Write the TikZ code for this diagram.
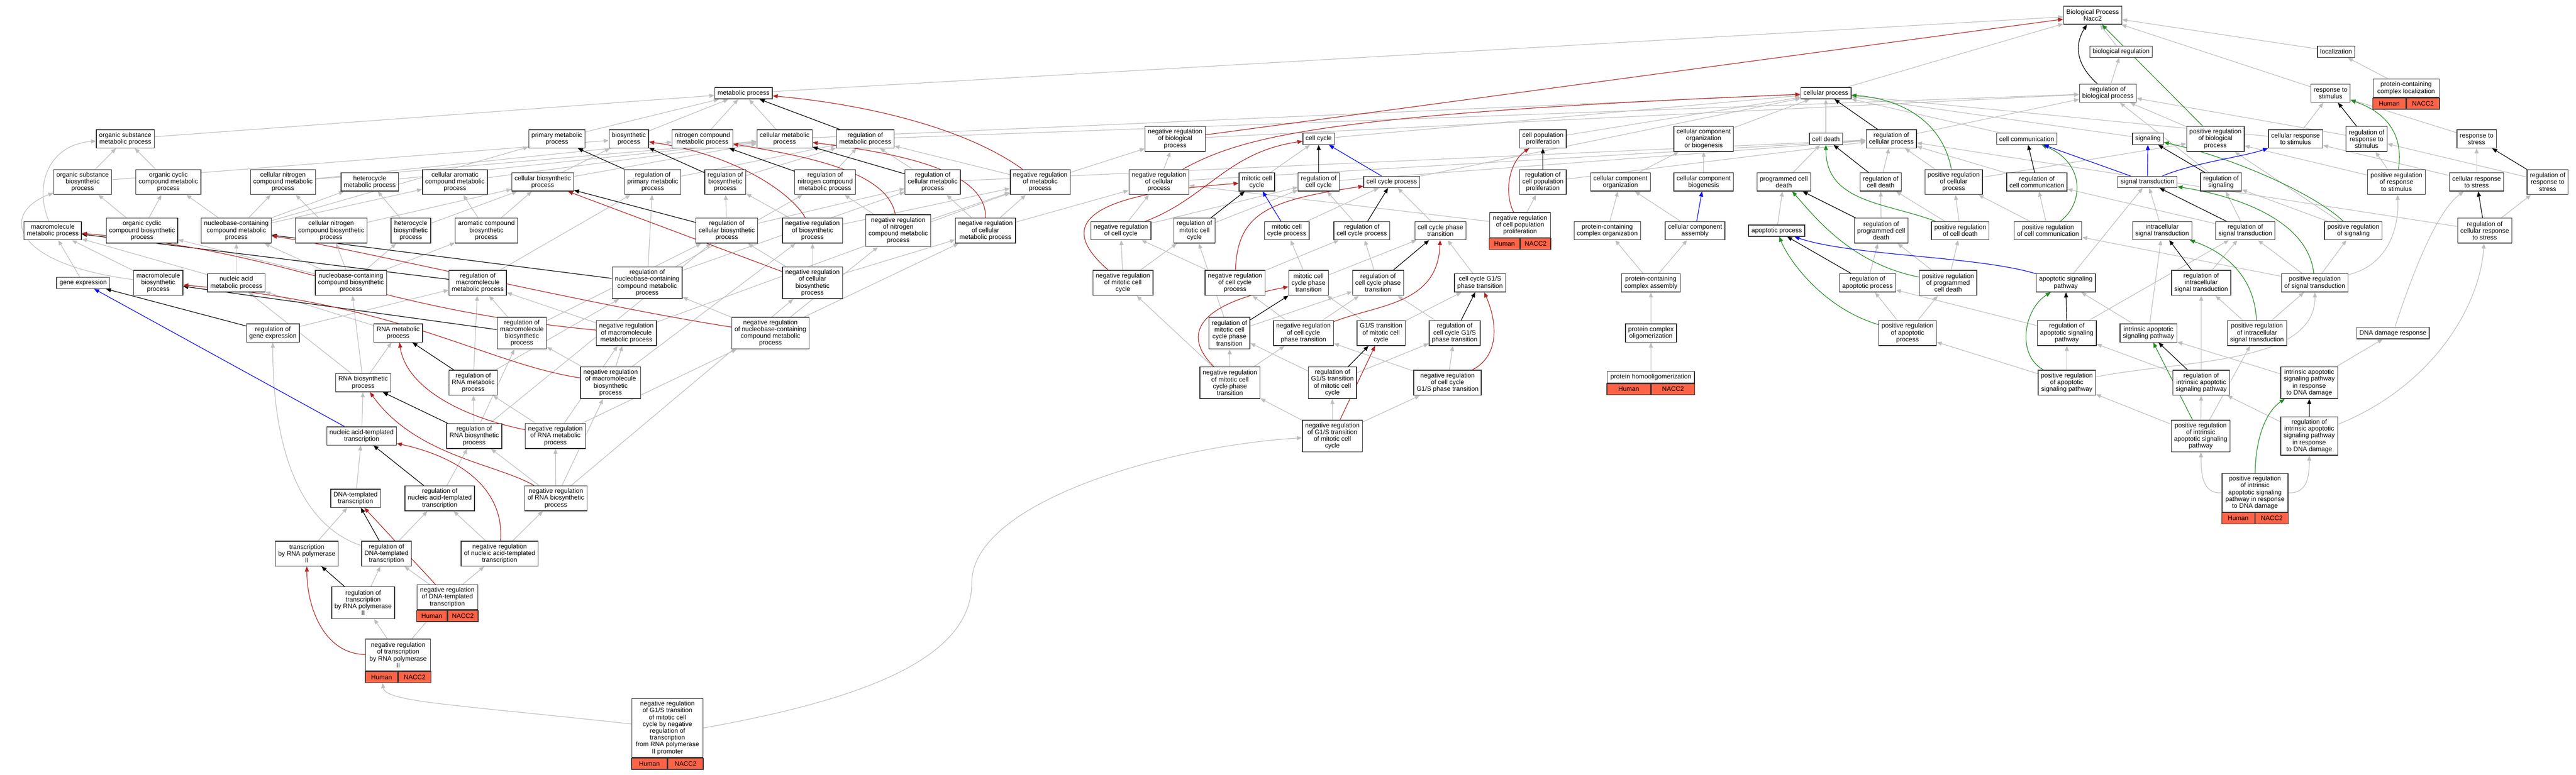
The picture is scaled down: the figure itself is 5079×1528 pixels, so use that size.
\documentclass[tikz,border=0pt]{standalone}
\usepackage{fontspec}
\setmainfont{Liberation Sans}
\usetikzlibrary{arrows.meta,backgrounds}

\definecolor{isagray}{RGB}{190,190,190}
\definecolor{firebrick}{RGB}{178,34,34}
\definecolor{forestgreen}{RGB}{34,139,34}
\definecolor{tomato}{RGB}{255,99,71}

\tikzset{
  term/.style={draw=black!80, line width=1.4pt, fill=white, align=center,
    inner xsep=5.5pt, inner ysep=2pt, font=\fontsize{12.7}{13.4}\selectfont},
  nl/.style={minimum height={13.4pt*#1+9pt}},
  gene/.style={draw=black!80, line width=1.4pt, fill=tomato, minimum height=22pt,
    inner sep=0pt, font=\fontsize{12.7}{13.4}\selectfont},
  golink/.style={line width=1.2pt, -{Triangle[length=10pt,width=8pt]}},
  isa/.style={golink, isagray},
  reg/.style={golink, black},
  nreg/.style={golink, firebrick},
  preg/.style={golink, forestgreen},
  partof/.style={golink, blue}
}

\newcommand{\generow}[2]{%
  \node[gene, minimum width=#2, anchor=north east] (#1H) at (#1.south) {Human};
  \node[gene, minimum width=#2, anchor=north west] (#1N) at (#1.south) {NACC2};}

\begin{document}
\begin{tikzpicture}[x=1pt,y=-1pt]
  \useasboundingbox (0,0) rectangle (5079,1528);

  \node[term,nl=2] (bp) at (4126,30) {Biological Process\\Nacc2};
  \node[term,nl=1] (bioreg) at (4182,102) {biological regulation};
  \node[term,nl=1] (loc) at (4606,102) {localization};

  \node[term,nl=1] (mp) at (1466,184) {metabolic process};
  \node[term,nl=1] (cp) at (3600,184) {cellular process};
  \node[term,nl=2] (regbp) at (4156,184) {regulation of\\biological process};
  \node[term,nl=2] (rstim) at (4595,184) {response to\\stimulus};
  \node[term,nl=2,minimum width=130pt] (pcloc) at (4744,174) {protein-containing\\complex localization};
  \generow{pcloc}{65pt}

  \node[term,nl=2] (osmp) at (247,274) {organic substance\\metabolic process};
  \node[term,nl=2] (pmp) at (1098,274) {primary metabolic\\process};
  \node[term,nl=2] (bsp) at (1240,274) {biosynthetic\\process};
  \node[term,nl=2] (ncmp) at (1385,274) {nitrogen compound\\metabolic process};
  \node[term,nl=2] (cmp) at (1547,274) {cellular metabolic\\process};
  \node[term,nl=2] (regmp) at (1706,274) {regulation of\\metabolic process};
  \node[term,nl=3] (nregbp) at (2317,274) {negative regulation\\of biological\\process};
  \node[term,nl=1] (cc) at (2600,274) {cell cycle};
  \node[term,nl=2] (cpp) at (3042,274) {cell population\\proliferation};
  \node[term,nl=3] (ccob) at (3359,274) {cellular component\\organization\\or biogenesis};
  \node[term,nl=1] (cd) at (3600,274) {cell death};
  \node[term,nl=2] (regcp) at (3729,274) {regulation of\\cellular process};
  \node[term,nl=1] (ccom) at (3996,274) {cell communication};
  \node[term,nl=1] (sig) at (4235,274) {signaling};
  \node[term,nl=3] (pregbp) at (4368,274) {positive regulation\\of biological\\process};
  \node[term,nl=2] (crstim) at (4526,274) {cellular response\\to stimulus};
  \node[term,nl=3] (regrstim) at (4666,274) {regulation of\\response to\\stimulus};
  \node[term,nl=2] (rstress) at (4883,274) {response to\\stress};

  \node[term,nl=3] (osbp) at (163,359) {organic substance\\biosynthetic\\process};
  \node[term,nl=3] (occmp) at (332,359) {organic cyclic\\compound metabolic\\process};
  \node[term,nl=3] (cncmp) at (558,359) {cellular nitrogen\\compound metabolic\\process};
  \node[term,nl=2] (hmp) at (729,359) {heterocycle\\metabolic process};
  \node[term,nl=3] (camp) at (897,359) {cellular aromatic\\compound metabolic\\process};
  \node[term,nl=2] (cbp) at (1070,359) {cellular biosynthetic\\process};
  \node[term,nl=3] (regpmp) at (1287,359) {regulation of\\primary metabolic\\process};
  \node[term,nl=3] (regbsp) at (1430,359) {regulation of\\biosynthetic\\process};
  \node[term,nl=3] (regncmp) at (1627,359) {regulation of\\nitrogen compound\\metabolic process};
  \node[term,nl=3] (regcmp) at (1839,359) {regulation of\\cellular metabolic\\process};
  \node[term,nl=3] (nregmp) at (2051,359) {negative regulation\\of metabolic\\process};
  \node[term,nl=3] (nregcp) at (2285,359) {negative regulation\\of cellular\\process};
  \node[term,nl=2] (mcc) at (2478,359) {mitotic cell\\cycle};
  \node[term,nl=2] (regcc) at (2600,359) {regulation of\\cell cycle};
  \node[term,nl=1] (ccp) at (2744,359) {cell cycle process};
  \node[term,nl=3] (regcpp) at (3042,359) {regulation of\\cell population\\proliferation};
  \node[term,nl=2] (cco) at (3195,359) {cellular component\\organization};
  \node[term,nl=2] (ccb) at (3359,359) {cellular component\\biogenesis};
  \node[term,nl=2] (pcd) at (3517,359) {programmed cell\\death};
  \node[term,nl=2] (regcd) at (3708,359) {regulation of\\cell death};
  \node[term,nl=3] (pregcp) at (3852,359) {positive regulation\\of cellular\\process};
  \node[term,nl=2] (regccom) at (4016,359) {regulation of\\cell communication};
  \node[term,nl=1] (st) at (4234,359) {signal transduction};
  \node[term,nl=2] (regsig) at (4379,359) {regulation of\\signaling};
  \node[term,nl=3] (pregrstim) at (4725,359) {positive regulation\\of response\\to stimulus};
  \node[term,nl=2] (crstress) at (4883,359) {cellular response\\to stress};
  \node[term,nl=3] (regrstress) at (5023,359) {regulation of\\response to\\stress};

  \node[term,nl=2] (mmp) at (104,455) {macromolecule\\metabolic process};
  \node[term,nl=3] (occbp) at (280,455) {organic cyclic\\compound biosynthetic\\process};
  \node[term,nl=3] (nccmp) at (466,455) {nucleobase-containing\\compound metabolic\\process};
  \node[term,nl=3] (cncbp) at (653,455) {cellular nitrogen\\compound biosynthetic\\process};
  \node[term,nl=3] (hbp) at (810,455) {heterocycle\\biosynthetic\\process};
  \node[term,nl=3] (acbp) at (959,455) {aromatic compound\\biosynthetic\\process};
  \node[term,nl=3] (regcbp) at (1433,455) {regulation of\\cellular biosynthetic\\process};
  \node[term,nl=3] (nregbsp) at (1602,455) {negative regulation\\of biosynthetic\\process};
  \node[term,nl=4] (nregncmp) at (1771,455) {negative regulation\\of nitrogen\\compound metabolic\\process};
  \node[term,nl=3] (nregcmp) at (1943,455) {negative regulation\\of cellular\\metabolic process};
  \node[term,nl=2] (nregcc) at (2210,455) {negative regulation\\of cell cycle};
  \node[term,nl=3] (regmcc) at (2355,455) {regulation of\\mitotic cell\\cycle};
  \node[term,nl=2] (mccp) at (2537,455) {mitotic cell\\cycle process};
  \node[term,nl=2] (regccp) at (2685,455) {regulation of\\cell cycle process};
  \node[term,nl=2] (ccpt) at (2840,455) {cell cycle phase\\transition};
  \node[term,nl=3,minimum width=120pt] (nregcpp) at (2997,444) {negative regulation\\of cell population\\proliferation};
  \generow{nregcpp}{60pt}
  \node[term,nl=2] (pcco) at (3169,455) {protein-containing\\complex organization};
  \node[term,nl=2] (cca) at (3342,455) {cellular component\\assembly};
  \node[term,nl=1] (ap) at (3503,455) {apoptotic process};
  \node[term,nl=3] (regpcd) at (3709,455) {regulation of\\programmed cell\\death};
  \node[term,nl=2] (pregcd) at (3865,455) {positive regulation\\of cell death};
  \node[term,nl=2] (pregccom) at (4038,455) {positive regulation\\of cell communication};
  \node[term,nl=2] (ist) at (4263,455) {intracellular\\signal transduction};
  \node[term,nl=2] (regst) at (4427,455) {regulation of\\signal transduction};
  \node[term,nl=2] (pregsig) at (4640,455) {positive regulation\\of signaling};
  \node[term,nl=3] (regcrstress) at (4899,455) {regulation of\\cellular response\\to stress};

  \node[term,nl=1] (ge) at (164,558) {gene expression};
  \node[term,nl=3] (mbp) at (312,558) {macromolecule\\biosynthetic\\process};
  \node[term,nl=2] (namp) at (466,558) {nucleic acid\\metabolic process};
  \node[term,nl=3] (nccbp) at (692,558) {nucleobase-containing\\compound biosynthetic\\process};
  \node[term,nl=3] (regmmp) at (942,558) {regulation of\\macromolecule\\metabolic process};
  \node[term,nl=4] (regnccmp) at (1276,558) {regulation of\\nucleobase-containing\\compound metabolic\\process};
  \node[term,nl=4] (nregcbp) at (1602,558) {negative regulation\\of cellular\\biosynthetic\\process};
  \node[term,nl=3] (nregmcc) at (2214,558) {negative regulation\\of mitotic cell\\cycle};
  \node[term,nl=3] (nregccp) at (2435,558) {negative regulation\\of cell cycle\\process};
  \node[term,nl=3] (mccpt) at (2580,558) {mitotic cell\\cycle phase\\transition};
  \node[term,nl=3] (regccpt) at (2717,558) {regulation of\\cell cycle phase\\transition};
  \node[term,nl=2] (g1s) at (2918,558) {cell cycle G1/S\\phase transition};
  \node[term,nl=2] (pcca) at (3255,558) {protein-containing\\complex assembly};
  \node[term,nl=2] (regap) at (3682,558) {regulation of\\apoptotic process};
  \node[term,nl=3] (pregpcd) at (3841,558) {positive regulation\\of programmed\\cell death};
  \node[term,nl=2] (asp) at (4073,558) {apoptotic signaling\\pathway};
  \node[term,nl=3] (regist) at (4340,558) {regulation of\\intracellular\\signal transduction};
  \node[term,nl=2] (pregst) at (4564,558) {positive regulation\\of signal transduction};

  \node[term,nl=2] (reggexp) at (538,657) {regulation of\\gene expression};
  \node[term,nl=2] (rnamp) at (785,657) {RNA metabolic\\process};
  \node[term,nl=4] (regmbp) at (1029,657) {regulation of\\macromolecule\\biosynthetic\\process};
  \node[term,nl=3] (nregmmp) at (1235,657) {negative regulation\\of macromolecule\\metabolic process};
  \node[term,nl=4] (nregnccmp) at (1519,657) {negative regulation\\of nucleobase-containing\\compound metabolic\\process};
  \node[term,nl=4] (regmccpt) at (2424,657) {regulation of\\mitotic cell\\cycle phase\\transition};
  \node[term,nl=3] (nregccpt) at (2570,657) {negative regulation\\of cell cycle\\phase transition};
  \node[term,nl=3] (g1smcc) at (2723,657) {G1/S transition\\of mitotic cell\\cycle};
  \node[term,nl=3] (regg1s) at (2868,657) {regulation of\\cell cycle G1/S\\phase transition};
  \node[term,nl=2] (pco) at (3255,657) {protein complex\\oligomerization};
  \node[term,nl=3] (pregap) at (3761,657) {positive regulation\\of apoptotic\\process};
  \node[term,nl=3] (regasp) at (4075,657) {regulation of\\apoptotic signaling\\pathway};
  \node[term,nl=2] (iasp) at (4236,657) {intrinsic apoptotic\\signaling pathway};
  \node[term,nl=3] (pregist) at (4450,657) {positive regulation\\of intracellular\\signal transduction};
  \node[term,nl=1] (dnadr) at (4718,657) {DNA damage response};

  \node[term,nl=2] (rnabp) at (716,755) {RNA biosynthetic\\process};
  \node[term,nl=3] (regrnamp) at (933,755) {regulation of\\RNA metabolic\\process};
  \node[term,nl=4] (nregmbp) at (1204,755) {negative regulation\\of macromolecule\\biosynthetic\\process};
  \node[term,nl=4] (nregmccpt) at (2425,755) {negative regulation\\of mitotic cell\\cycle phase\\transition};
  \node[term,nl=4] (regg1smcc) at (2627,755) {regulation of\\G1/S transition\\of mitotic cell\\cycle};
  \node[term,nl=3] (nregg1s) at (2854,755) {negative regulation\\of cell cycle\\G1/S phase transition};
  \node[term,nl=1,minimum width=172pt] (pho) at (3255,744) {protein homooligomerization};
  \generow{pho}{86pt}
  \node[term,nl=3] (pregasp) at (4075,755) {positive regulation\\of apoptotic\\signaling pathway};
  \node[term,nl=3] (regiasp) at (4340,755) {regulation of\\intrinsic apoptotic\\signaling pathway};
  \node[term,nl=4] (iaspdna) at (4553,755) {intrinsic apoptotic\\signaling pathway\\in response\\to DNA damage};

  \node[term,nl=2] (natt) at (713,860) {nucleic acid-templated\\transcription};
  \node[term,nl=3] (regrnabp) at (935,860) {regulation of\\RNA biosynthetic\\process};
  \node[term,nl=3] (nregrnamp) at (1095,860) {negative regulation\\of RNA metabolic\\process};
  \node[term,nl=4] (nregg1smcc) at (2627,860) {negative regulation\\of G1/S transition\\of mitotic cell\\cycle};
  \node[term,nl=4] (pregiasp) at (4339,860) {positive regulation\\of intrinsic\\apoptotic signaling\\pathway};
  \node[term,nl=5] (regiaspdna) at (4553,860) {regulation of\\intrinsic apoptotic\\signaling pathway\\in response\\to DNA damage};

  \node[term,nl=2] (dtt) at (701,983) {DNA-templated\\transcription};
  \node[term,nl=3] (regnatt) at (867,983) {regulation of\\nucleic acid-templated\\transcription};
  \node[term,nl=3] (nregrnabp) at (1096,983) {negative regulation\\of RNA biosynthetic\\process};
  \node[term,nl=5,minimum width=130pt] (pregiaspdna) at (4446,972) {positive regulation\\of intrinsic\\apoptotic signaling\\pathway in response\\to DNA damage};
  \generow{pregiaspdna}{65pt}

  \node[term,nl=3] (trpol2) at (605,1092) {transcription\\by RNA polymerase\\II};
  \node[term,nl=3] (regdtt) at (762,1092) {regulation of\\DNA-templated\\transcription};
  \node[term,nl=3] (nregnatt) at (985,1092) {negative regulation\\of nucleic acid-templated\\transcription};

  \node[term,nl=4] (regtrpol2) at (716,1189) {regulation of\\transcription\\by RNA polymerase\\II};
  \node[term,nl=3,minimum width=120pt] (nregdtt) at (882,1178) {negative regulation\\of DNA-templated\\transcription};
  \generow{nregdtt}{60pt}

  \node[term,nl=4,minimum width=128pt] (nregtrpol2) at (785,1292) {negative regulation\\of transcription\\by RNA polymerase\\II};
  \generow{nregtrpol2}{64pt}

  \node[term,nl=8,minimum width=140pt] (nregg1sbot) at (1316,1436) {negative regulation\\of G1/S transition\\of mitotic cell\\cycle by negative\\regulation of\\transcription\\from RNA polymerase\\II promoter};
  \generow{nregg1sbot}{70pt}

  \begin{pgfonlayer}{background}
    \path[isa] (mp) edge (bp);
    \path[isa] (cp) edge (bp);
    \path[isa] (bioreg) edge (bp);
    \path[isa] (rstim) edge (bp);
    \path[isa] (loc) edge (bp);
    \path[isa] (regbp) edge (bioreg);
    \path[isa] (pcloc) edge (loc);
    \path[isa] (osmp) edge (mp);
    \path[isa] (pmp) edge (mp);
    \path[isa] (bsp) edge (mp);
    \path[isa] (ncmp) edge (mp);
    \path[isa] (cmp) edge (mp) edge (cp);
    \path[isa] (regmp) edge (regbp);
    \path[isa] (nregbp) edge (regbp);
    \path[isa] (cc) edge (cp);
    \path[isa] (cpp) edge (cp);
    \path[isa] (ccob) edge (cp);
    \path[isa] (cd) edge (cp);
    \path[isa] (ccom) edge (cp);
    \path[isa] (sig) edge (cp);
    \path[isa] (crstim) edge (cp) edge (rstim);
    \path[isa] (regcp) edge (regbp);
    \path[isa] (pregbp) edge (regbp);
    \path[isa] (regrstim) edge (regbp);
    \path[isa] (regsig) edge (regbp);
    \path[isa] (rstress) edge (rstim);
    \path[isa] (osbp) edge (osmp) edge (bsp);
    \path[isa] (occmp) edge (osmp);
    \path[isa] (cncmp) edge (ncmp) edge (cmp);
    \path[isa] (hmp) edge (cmp);
    \path[isa] (camp) edge (cmp);
    \path[isa] (cbp) edge (bsp) edge (cmp);
    \path[isa] (regpmp) edge (regmp);
    \path[isa] (regbsp) edge (regmp);
    \path[isa] (regncmp) edge (regmp);
    \path[isa] (regcmp) edge (regmp) edge (regcp);
    \path[isa] (nregmp) edge (regmp) edge (nregbp);
    \path[isa] (nregcp) edge (nregbp) edge (regcp);
    \path[isa] (mcc) edge (cc);
    \path[isa] (regcc) edge (regcp);
    \path[isa] (ccp) edge (cp);
    \path[isa] (regcpp) edge (regcp);
    \path[isa] (cco) edge (ccob);
    \path[isa] (ccb) edge (ccob);
    \path[isa] (pcd) edge (cd);
    \path[isa] (regcd) edge (regcp);
    \path[isa] (pregcp) edge (regcp) edge (pregbp);
    \path[isa] (regccom) edge (regcp);
    \path[isa] (pregrstim) edge (regrstim) edge (pregbp);
    \path[isa] (crstress) edge (rstress) edge (crstim);
    \path[isa] (regrstress) edge (regrstim);
    \draw[isa] (mmp) .. controls (65,360) and (100,285) .. (osmp);
    \path[isa] (occbp) edge (osbp) edge (occmp);
    \path[isa] (nccmp) edge (pmp) edge (occmp) edge (cncmp) edge (hmp) edge (camp);
    \path[isa] (cncbp) edge (cncmp) edge (cbp);
    \path[isa] (hbp) edge (hmp) edge (cbp);
    \path[isa] (acbp) edge (camp) edge (cbp);
    \path[isa] (regcbp) edge (regbsp) edge (regcmp);
    \path[isa] (nregbsp) edge (regbsp) edge (nregmp);
    \path[isa] (nregncmp) edge (regncmp) edge (nregmp);
    \path[isa] (nregcmp) edge (regcmp) edge (nregmp) edge (nregcp);
    \path[isa] (nregcc) edge (nregcp) edge (regcc);
    \path[isa] (regmcc) edge (regcc);
    \path[isa] (mccp) edge (ccp);
    \path[isa] (regccp) edge (regcc);
    \path[isa] (ccpt) edge (ccp);
    \path[isa] (nregcpp) edge (regcpp) edge (nregcp);
    \path[isa] (pcco) edge (cco);
    \path[isa] (cca) edge (cco);
    \path[isa] (ap) edge (pcd);
    \path[isa] (regpcd) edge (regcd);
    \path[isa] (pregcd) edge (regcd) edge (pregcp);
    \path[isa] (pregccom) edge (regccom) edge (pregcp);
    \path[isa] (ist) edge (st);
    \path[isa] (regst) edge (regsig) edge (regccom);
    \path[isa] (pregsig) edge (regsig) edge (pregbp);
    \path[isa] (regcrstress) edge (regrstress) edge (regcp);
    \path[isa] (ge) edge (mmp);
    \path[isa] (mbp) edge (mmp);
    \draw[isa] (mbp) .. controls (20,520) and (0,420) .. (osbp);
    \path[isa] (namp) edge (nccmp) edge (mmp);
    \path[isa] (nccbp) edge (nccmp) edge (cncbp) edge (hbp) edge (occbp) edge (acbp);
    \path[isa] (regmmp) edge (regpmp);
    \path[isa] (regnccmp) edge (regpmp) edge (regncmp) edge (regcmp);
    \path[isa] (nregcbp) edge (nregbsp) edge (regcbp) edge (nregcmp);
    \path[isa] (nregmcc) edge (nregcc) edge (regmcc);
    \path[isa] (nregccp) edge (nregcc) edge (regccp);
    \path[isa] (mccpt) edge (mccp) edge (ccpt);
    \path[isa] (regccpt) edge (regccp);
    \path[isa] (g1s) edge (ccpt);
    \path[isa] (pcca) edge (pcco) edge (cca);
    \path[isa] (regap) edge (regpcd);
    \path[isa] (pregpcd) edge (pregcd) edge (regpcd);
    \path[isa] (asp) edge (st);
    \path[isa] (regist) edge (regst);
    \path[isa] (pregst) edge (regst) edge (pregsig) edge (pregccom);
    \draw[isa] (pregst) .. controls (4720,520) and (4730,430) .. (pregrstim);
    \path[isa] (reggexp) edge (regmmp);
    \path[isa] (rnamp) edge (namp);
    \path[isa] (regmbp) edge (regmmp) edge (regcbp);
    \path[isa] (nregmmp) edge (regmmp) edge (nregmp);
    \path[isa] (nregnccmp) edge (regnccmp) edge (nregncmp) edge (nregcmp);
    \path[isa] (regmccpt) edge (regmcc) edge (regccpt);
    \path[isa] (nregccpt) edge (nregccp) edge (regccpt);
    \path[isa] (g1smcc) edge (mccpt) edge (g1s);
    \path[isa] (regg1s) edge (regccpt);
    \path[isa] (pco) edge (pcca);
    \path[isa] (pregap) edge (regap) edge (pregpcd);
    \path[isa] (regasp) edge (regap) edge (regst);
    \path[isa] (iasp) edge (asp) edge (ist);
    \path[isa] (pregist) edge (regist) edge (pregst);
    \draw[isa] (dnadr) .. controls (4750,560) and (4800,420) .. (crstress);
    \path[isa] (rnabp) edge (rnamp) edge (nccbp) edge (namp);
    \path[isa] (regrnamp) edge (regnccmp) edge (regmmp);
    \path[isa] (nregmbp) edge (regmbp) edge (nregmmp) edge (nregbsp);
    \path[isa] (nregmccpt) edge (regmccpt) edge (nregmcc) edge (nregccpt);
    \path[isa] (regg1smcc) edge (regmccpt) edge (regg1s);
    \path[isa] (nregg1s) edge (regg1s) edge (nregccpt);
    \path[isa] (pho) edge (pco);
    \path[isa] (pregasp) edge (regasp) edge (pregap);
    \draw[isa] (pregasp) .. controls (4300,710) and (4565,720) .. (pregst);
    \path[isa] (regiasp) edge (regasp) edge (regist);
    \path[isa] (iaspdna) edge (iasp) edge (dnadr);
    \path[isa] (natt) edge (rnabp);
    \path[isa] (regrnabp) edge (regrnamp) edge (regmbp) edge (regcbp);
    \path[isa] (nregrnamp) edge (regrnamp) edge (nregmmp) edge (nregnccmp);
    \path[isa] (nregg1smcc) edge (regg1smcc) edge (nregg1s) edge (nregmccpt);
    \path[isa] (pregiasp) edge (regiasp) edge (pregasp) edge (pregist);
    \path[isa] (regiaspdna) edge (regiasp);
    \draw[isa] (regiaspdna) .. controls (4800,760) and (4890,600) .. (regcrstress);
    \path[isa] (dtt) edge (natt);
    \path[isa] (regnatt) edge (regrnabp);
    \path[isa] (nregrnabp) edge (regrnabp) edge (nregrnamp) edge (nregmbp) edge (nregcbp);
    \draw[isa] (pregiaspdna.west) .. controls (4340,975) and (4340,930) .. (pregiasp);
    \draw[isa] (pregiaspdna.east) .. controls (4553,975) and (4553,930) .. (regiaspdna);
    \path[isa] (trpol2) edge (dtt);
    \path[isa] (regdtt) edge (regnatt);
    \draw[isa] (regdtt) .. controls (600,1040) and (537,900) .. (reggexp);
    \path[isa] (nregnatt) edge (regnatt) edge (nregrnabp);
    \path[isa] (regtrpol2) edge (regdtt);
    \path[isa] (nregdtt) edge (regdtt) edge (nregnatt);
    \path[isa] (nregtrpol2) edge (regtrpol2) edge (nregdtt);
    \draw[isa] (nregg1sbot) .. controls (900,1390) and (760,1385) .. (nregtrpol2H);
    \draw[isa] (nregg1sbot.east) .. controls (1700,1380) and (1916,1300) .. (1916,1150)
      .. controls (1916,990) and (2300,880) .. (nregg1smcc);

    \draw[reg] (regbp) .. controls (4085,120) and (4095,80) .. (bp);
    \path[reg] (regmp) edge (mp);
    \path[reg] (regpmp) edge (pmp);
    \path[reg] (regbsp) edge (bsp);
    \path[reg] (regncmp) edge (ncmp);
    \path[reg] (regcmp) edge (cmp);
    \path[reg] (regcbp) edge (cbp);
    \path[reg] (regmmp) edge (mmp);
    \path[reg] (regnccmp) edge (nccmp);
    \path[reg] (regmbp) edge (mbp);
    \path[reg] (reggexp) edge (ge);
    \path[reg] (regrnamp) edge (rnamp);
    \path[reg] (regrnabp) edge (rnabp);
    \path[reg] (regnatt) edge (natt);
    \path[reg] (regdtt) edge (dtt);
    \path[reg] (regtrpol2) edge (trpol2);
    \path[reg] (regcc) edge (cc);
    \path[reg] (regmcc) edge (mcc);
    \path[reg] (regccp) edge (ccp);
    \path[reg] (regccpt) edge (ccpt);
    \path[reg] (regmccpt) edge (mccpt);
    \path[reg] (regg1smcc) edge (g1smcc);
    \path[reg] (regg1s) edge (g1s);
    \path[reg] (regcpp) edge (cpp);
    \path[reg] (regcp) edge (cp);
    \path[reg] (regcd) edge (cd);
    \path[reg] (regpcd) edge (pcd);
    \path[reg] (regap) edge (ap);
    \path[reg] (regccom) edge (ccom);
    \path[reg] (regsig) edge (sig);
    \path[reg] (regst) edge (st);
    \path[reg] (regist) edge (ist);
    \path[reg] (regasp) edge (asp);
    \path[reg] (regiasp) edge (iasp);
    \path[reg] (regiaspdna) edge (iaspdna);
    \path[reg] (regrstim) edge (rstim);
    \path[reg] (regrstress) edge (rstress);
    \path[reg] (regcrstress) edge (crstress);

    \path[nreg] (nregbp) edge (bp);
    \draw[nreg] (nregmp) .. controls (1900,250) and (1700,205) .. (mp);
    \draw[nreg] (nregcp) .. controls (2450,270) and (2600,225) .. (cp);
    \draw[nreg] (nregcmp) .. controls (1945,330) and (1750,300) .. (cmp);
    \draw[nreg] (nregbsp) .. controls (1560,380) and (1450,305) .. (bsp);
    \draw[nreg] (nregncmp) .. controls (1750,340) and (1600,310) .. (ncmp);
    \path[nreg] (nregcbp) edge (cbp);
    \draw[nreg] (nregmmp) .. controls (700,605) and (600,500) .. (mmp);
    \draw[nreg] (nregnccmp) .. controls (1150,600) and (700,490) .. (nccmp);
    \draw[nreg] (nregmbp) .. controls (950,715) and (800,600) .. (mbp);
    \draw[nreg] (nregrnamp) .. controls (900,820) and (800,760) .. (rnamp);
    \draw[nreg] (nregrnabp) .. controls (980,915) and (820,900) .. (rnabp);
    \draw[nreg] (nregnatt) .. controls (995,960) and (900,900) .. (natt);
    \path[nreg] (nregdtt) edge (dtt);
    \draw[nreg] (nregtrpol2) .. controls (640,1290) and (605,1200) .. (trpol2);
    \draw[nreg] (nregcc) .. controls (2380,390) and (2420,300) .. (cc);
    \draw[nreg] (nregmcc) .. controls (2090,450) and (2120,385) .. (mcc);
    \draw[nreg] (nregccp) .. controls (2440,420) and (2500,395) .. (ccp);
    \draw[nreg] (nregmccpt) .. controls (2330,660) and (2360,600) .. (mccpt);
    \draw[nreg] (nregccpt) .. controls (2720,600) and (2835,600) .. (ccpt);
    \path[nreg] (nregg1smcc) edge (g1smcc);
    \draw[nreg] (nregg1s) .. controls (2960,700) and (2950,630) .. (g1s);
    \draw[nreg] (nregcpp) .. controls (2965,380) and (2975,320) .. (cpp);

    \path[preg] (pregbp) edge (bp);
    \draw[preg] (pregcp) .. controls (3830,240) and (3750,195) .. (cp);
    \draw[preg] (pregcd) .. controls (3720,400) and (3600,400) .. (cd);
    \draw[preg] (pregpcd) .. controls (3650,520) and (3580,430) .. (pcd);
    \draw[preg] (pregap) .. controls (3600,610) and (3530,520) .. (ap);
    \draw[preg] (pregccom) .. controls (4110,400) and (4110,320) .. (ccom);
    \draw[preg] (pregsig) .. controls (4560,380) and (4400,310) .. (sig);
    \draw[preg] (pregst) .. controls (4550,430) and (4400,385) .. (st);
    \draw[preg] (pregist) .. controls (4445,540) and (4380,495) .. (ist);
    \draw[preg] (pregasp) .. controls (3975,700) and (3990,610) .. (asp);
    \path[preg] (pregiasp) edge (iasp);
    \draw[preg] (pregiaspdna) .. controls (4447,860) and (4470,810) .. (iaspdna);
    \draw[preg] (pregrstim) .. controls (4740,260) and (4700,220) .. (rstim);

    \path[partof] (st) edge (ccom) edge (sig);
    \draw[partof] (st) .. controls (4330,320) and (4420,310) .. (crstim);
    \draw[partof] (asp) .. controls (3900,505) and (3650,505) .. (ap);
    \path[partof] (mccp) edge (mcc);
    \path[partof] (ccp) edge (cc);
    \path[partof] (cca) edge (ccb);
    \path[partof] (natt) edge (ge);
  \end{pgfonlayer}
\end{tikzpicture}
\end{document}
